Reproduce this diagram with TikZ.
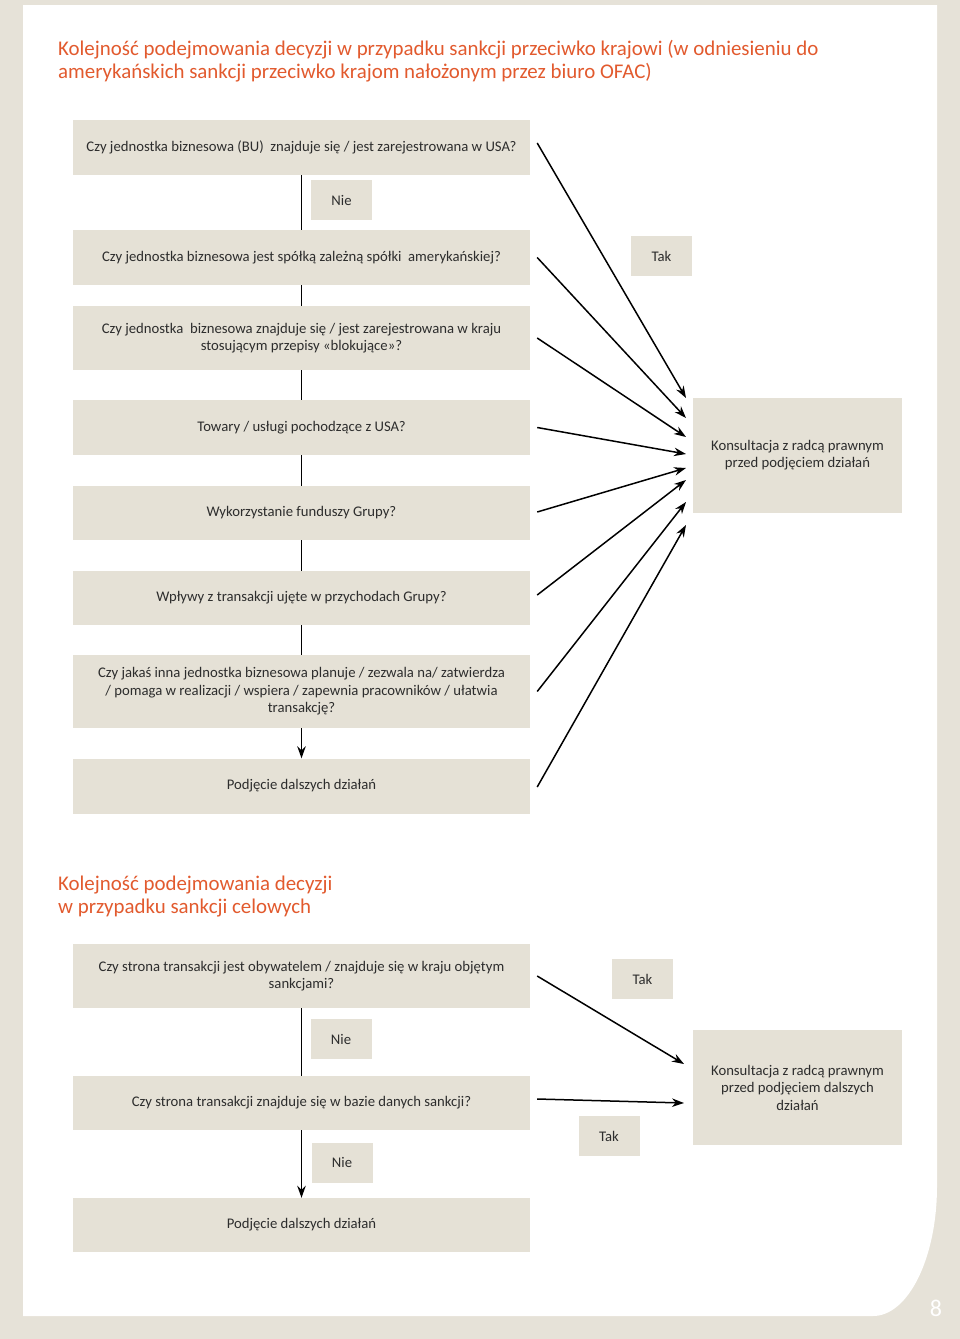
\documentclass[tikz,border=0pt]{standalone}
\usepackage{fontspec}
\setmainfont{Carlito}
\usepackage{tikz}
\usetikzlibrary{arrows.meta}
\definecolor{pagebeige}{RGB}{230,226,216}
\definecolor{boxbeige}{RGB}{229,225,214}
\definecolor{titleorange}{RGB}{226,90,46}
\definecolor{textgray}{RGB}{45,45,45}

\begin{document}
\begin{tikzpicture}[x=1pt,y=-1pt,
	qbox/.style={fill=boxbeige,minimum width=457pt,minimum height=55pt,inner sep=0pt,align=center,text=textgray,font=\fontsize{14.7}{17.5}\selectfont},
	answer/.style={fill=boxbeige,minimum width=61pt,minimum height=40pt,inner sep=0pt,text=textgray,font=\fontsize{14.7}{17.5}\selectfont},
	kbox/.style={fill=boxbeige,minimum width=209pt,minimum height=115pt,inner sep=0pt,align=center,text=textgray,font=\fontsize{14.7}{17.5}\selectfont},
	heading/.style={anchor=west,align=left,inner sep=0pt,text=titleorange,font=\fontsize{20.9}{23}\selectfont},
	link/.style={line width=1.5pt},
	arrow/.style={line width=1.5pt,-{Stealth[length=12pt,width=8.5pt]}}]
	\useasboundingbox (0,0) rectangle (960,1339);

	%page
	\fill[pagebeige] (0,0) rectangle (960,1339);
	\fill[white] (23,5) -- (937,5) -- (937,1186) arc[start angle=0,end angle=-90,x radius=64pt,y radius=130pt] -- (23,1316) -- cycle;
	\node[text=white,font=\fontsize{24}{24}\selectfont] (pagenum) at (936,1308) {8};

	%country sanctions
	\node[heading] (title1) at (58,61) {Kolejność podejmowania decyzji w przypadku sankcji przeciwko krajowi (w odniesieniu do\\amerykańskich sankcji przeciwko krajom nałożonym przez biuro OFAC)};
	\node[qbox] (q1) at (301.5,147.5) {Czy jednostka biznesowa (BU)\ \ znajduje się / jest zarejestrowana w USA?};
	\node[qbox] (q2) at (301.5,257.5) {Czy jednostka biznesowa jest spółką zależną spółki\ \ amerykańskiej?};
	\node[qbox,minimum height=64pt] (q3) at (301.5,338) {Czy jednostka\ \ biznesowa znajduje się / jest zarejestrowana w kraju\\stosującym przepisy «blokujące»?};
	\node[qbox] (q4) at (301.5,427.5) {Towary / usługi pochodzące z USA?};
	\node[qbox,minimum height=54pt] (q5) at (301.5,513) {Wykorzystanie funduszy Grupy?};
	\node[qbox,minimum height=54pt] (q6) at (301.5,598) {Wpływy z transakcji ujęte w przychodach Grupy?};
	\node[qbox,minimum height=73pt] (q7) at (301.5,691.5) {Czy jakaś inna jednostka biznesowa planuje / zezwala na/ zatwierdza\\/ pomaga w realizacji / wspiera / zapewnia pracowników / ułatwia\\transakcję?};
	\node[qbox] (q8) at (301.5,786) {Podjęcie dalszych działań};
	\node[kbox] (kons1) at (797.5,455) {Konsultacja z radcą prawnym\\przed podjęciem działań};
	\node[answer] (nie1) at (341.5,200) {Nie};
	\node[answer] (tak1) at (661.5,256) {Tak};

	\foreach \a/\b in {q1/q2,q2/q3,q3/q4,q4/q5,q5/q6,q6/q7}
		\draw[link] (\a.south) -- (\b.north);
	\draw[arrow] (q7.south) -- (q8.north);
	\foreach \i/\ty/\sy in {1/398/4.5,2/418/0,3/437/0,4/454/0,5/468/1,6/480/3,7/502/0,8/525/-1}
		{
		\coordinate (t\i) at (686,\ty);
		\draw[arrow] ([xshift=7pt,yshift=\sy pt]q\i.east) -- (t\i);
		}

	%targeted sanctions
	\node[heading] (title2) at (58,897) {Kolejność podejmowania decyzji\\w przypadku sankcji celowych};
	\node[qbox,minimum height=64pt] (a1) at (301.5,976) {Czy strona transakcji jest obywatelem / znajduje się w kraju objętym\\sankcjami?};
	\node[qbox,minimum height=54pt] (a2) at (301.5,1103) {Czy strona transakcji znajduje się w bazie danych sankcji?};
	\node[qbox,minimum height=54pt] (a3) at (301.5,1225) {Podjęcie dalszych działań};
	\node[kbox] (kons2) at (797.5,1087.5) {Konsultacja z radcą prawnym\\przed podjęciem dalszych\\działań};
	\node[answer] (nie2) at (341,1039) {Nie};
	\node[answer] (tak2) at (642.5,979) {Tak};
	\node[answer] (tak3) at (609,1136) {Tak};
	\node[answer] (nie3) at (342,1162.5) {Nie};

	\draw[link] (a1.south) -- (a2.north);
	\draw[arrow] (a2.south) -- (a3.north);
	\coordinate (u1) at (684,1064);
	\coordinate (u2) at (684,1103);
	\draw[arrow] ([xshift=7pt]a1.east) -- (u1);
	\draw[arrow] ([xshift=7pt,yshift=4pt]a2.east) -- (u2);
\end{tikzpicture}
\end{document}
